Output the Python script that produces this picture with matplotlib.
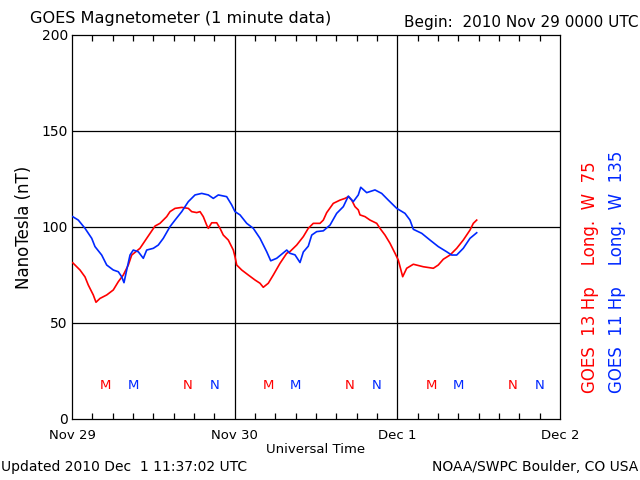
import matplotlib
matplotlib.use('Agg')
import matplotlib.pyplot as plt

# hours since 2010 Nov 29 00:00 UT
g13_hours = [0.1, 1.18, 1.92, 2.4, 3.14, 3.54, 4.13, 5.12, 6.09, 6.83, 7.57, 8.31,
             8.81, 10.03, 11.02, 12.25, 12.98, 13.97, 14.46, 15.2, 16.19, 17.16,
             17.66, 18.4, 18.89, 19.37, 19.87, 20.11, 20.61, 21.35, 21.84, 22.32,
             23.06, 23.8, 24.05, 24.3, 25.04, 26.01, 27.0, 27.74, 28.22, 28.96,
             29.7, 30.69, 31.68, 32.16, 33.15, 34.13, 34.86, 35.6, 36.59, 37.08,
             37.58, 38.55, 39.54, 40.28, 40.77, 41.27, 41.75, 42.24, 42.49, 43.23,
             43.97, 44.96, 45.44, 46.18, 46.92, 47.66, 48.14, 48.79, 49.38, 50.36,
             51.83, 53.31, 54.04, 54.78, 55.77, 56.76, 57.73, 58.72, 59.21, 59.71]
g13_nt = [81.4, 77.6, 74.0, 69.8, 64.6, 60.8, 62.8, 64.6, 67.2, 71.5, 75.0, 80.2,
          85.4, 88.9, 94.1, 100.5, 101.9, 105.4, 108.0, 109.7, 110.2, 109.7,
          108.0, 107.5, 108.0, 105.4, 101.0, 99.3, 102.2, 102.2, 99.3, 95.8,
          93.2, 88.0, 84.5, 80.2, 77.6, 75.0, 72.4, 70.7, 68.6, 70.7,
          75.0, 81.1, 86.3, 87.2, 90.6, 95.0, 99.3, 101.9, 101.9, 103.6,
          107.5, 112.3, 114.0, 114.9, 115.8, 114.0, 110.6, 108.9, 106.3, 105.4,
          103.6, 101.9, 99.3, 95.8, 91.5, 86.3, 82.8, 74.1, 78.5, 80.6,
          79.3, 78.5, 80.2, 83.2, 85.4, 88.9, 93.2, 98.4, 101.9, 103.6]

g11_hours = [0.1, 0.93, 1.92, 2.91, 3.39, 4.38, 5.12, 6.09, 6.83, 7.33, 7.67, 8.07,
             8.56, 9.04, 9.78, 10.52, 11.02, 12.0, 12.73, 13.47, 14.46, 15.2,
             16.19, 17.16, 18.15, 19.14, 20.11, 20.85, 21.59, 22.82, 23.56, 24.05,
             24.79, 25.78, 26.75, 27.74, 28.73, 29.32, 30.2, 31.68, 32.16, 32.9,
             33.64, 34.13, 34.86, 35.37, 36.1, 37.08, 38.07, 39.05, 40.03, 40.77,
             41.5, 42.24, 42.6, 43.48, 44.7, 45.69, 46.67, 47.91, 49.13, 49.87,
             50.36, 51.6, 52.82, 54.04, 55.28, 56.02, 56.76, 57.73, 58.72, 59.71]
g11_nt = [105.4, 103.6, 99.3, 94.1, 89.8, 85.4, 80.2, 77.6, 76.7, 74.1, 71.0, 77.6,
          85.4, 88.0, 87.1, 83.7, 88.0, 88.9, 90.6, 94.1, 100.2, 103.6,
          108.0, 113.2, 116.7, 117.5, 116.7, 114.9, 116.7, 115.8, 111.5, 108.0,
          106.3, 101.9, 99.3, 94.1, 87.1, 82.4, 83.7, 88.0, 86.3, 85.5,
          81.5, 87.0, 90.0, 95.8, 97.6, 98.0, 101.0, 107.1, 110.6, 116.1,
          113.2, 116.7, 120.7, 117.9, 119.3, 117.5, 114.0, 109.7, 107.1, 103.6,
          98.8, 96.7, 93.2, 89.8, 87.1, 85.4, 85.4, 88.9, 94.1, 97.0]

# local midnight (M) and noon (N) marks
g13_m = [5, 29, 53]
g13_n = [17, 41, 65]
g11_m = [9, 33, 57]
g11_n = [21, 45, 69]
mark_level = 17.5

day_ticks = [0, 24, 48, 72]
day_labels = ['Nov 29', 'Nov 30', 'Dec 1', 'Dec 2']
y_ticks = [0, 50, 100, 150, 200]

red = '#ff0000'
blue = '#0028ff'

fig = plt.figure(figsize=(6.4, 4.8), dpi=100)
ax = fig.add_axes([72 / 640, 61 / 480, 488 / 640, 384 / 480])

for y in [50, 100, 150]:
    ax.axhline(y, color='black', lw=0.9, zorder=1)
for x in [24, 48]:
    ax.axvline(x, color='black', lw=0.9, zorder=1)

ax.plot(g13_hours, g13_nt, color=red, lw=1.2, zorder=3)
ax.plot(g11_hours, g11_nt, color=blue, lw=1.2, zorder=3)

for h in g13_m:
    ax.text(h, mark_level, 'M', color=red, ha='center', va='center', fontsize=9.5)
for h in g11_m:
    ax.text(h, mark_level, 'M', color=blue, ha='center', va='center', fontsize=9.5)
for h in g13_n:
    ax.text(h, mark_level, 'N', color=red, ha='center', va='center', fontsize=9.5)
for h in g11_n:
    ax.text(h, mark_level, 'N', color=blue, ha='center', va='center', fontsize=9.5)

ax.set_xlim(0, 72)
ax.set_ylim(0, 200)
ax.set_xticks(day_ticks)
ax.set_xticklabels(day_labels)
ax.set_xticks(range(0, 73, 3), minor=True)
ax.set_yticks(y_ticks)
ax.tick_params(axis='x', which='major', length=0, pad=7, labelsize=9.5)
ax.tick_params(axis='x', which='minor', direction='in', length=4, top=True, width=0.9)
ax.tick_params(axis='y', length=0, pad=3, labelsize=10)
for s in ax.spines.values():
    s.set_linewidth(0.9)

ax.set_xlabel('Universal Time', fontsize=9.5, labelpad=1)
ax.set_ylabel('NanoTesla (nT)', fontsize=12, labelpad=6)

fig.text(30 / 640, 1 - 19 / 480, 'GOES Magnetometer (1 minute data)', fontsize=11.6,
         ha='left', va='center')
fig.text(638 / 640, 1 - 23 / 480, 'Begin:  2010 Nov 29 0000 UTC', fontsize=11,
         ha='right', va='center')
fig.text(0.002, 1 - 467 / 480, 'Updated 2010 Dec  1 11:37:02 UTC', fontsize=10,
         ha='left', va='center')
fig.text(638 / 640, 1 - 467 / 480, 'NOAA/SWPC Boulder, CO USA', fontsize=10,
         ha='right', va='center')
fig.text(590 / 640, 1 - 393 / 480, 'GOES  13 Hp    Long.  W  75', fontsize=12,
         color=red, rotation=90, ha='center', va='bottom')
fig.text(617 / 640, 1 - 393 / 480, 'GOES  11 Hp    Long.  W  135', fontsize=12,
         color=blue, rotation=90, ha='center', va='bottom')

fig.savefig('out.png', dpi=100)
